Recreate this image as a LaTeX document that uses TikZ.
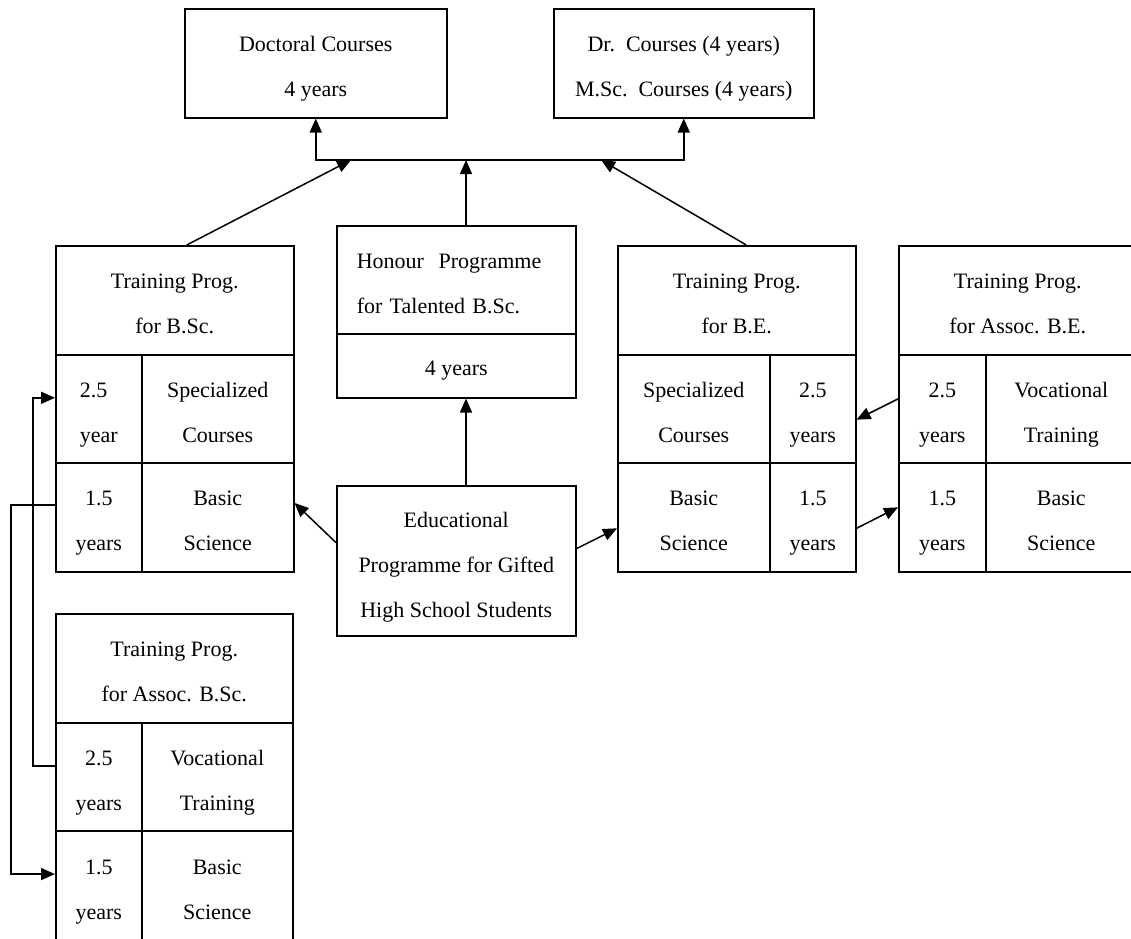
\documentclass[tikz,border=0pt]{standalone}
\usepackage{fontspec}
\setmainfont{Liberation Serif}
\usetikzlibrary{arrows.meta,calc}
\tikzset{
  cell/.style={draw, line width=1.5pt, inner sep=0pt, anchor=north west, align=center,
    font=\fontsize{22pt}{45pt}\selectfont, text height=72.5pt, text depth=6pt},
  arr/.style={line width=1.5pt, -{Triangle[length=14pt,width=12pt]}}
}
\begin{document}
\begin{tikzpicture}[x=1pt,y=-1pt]
\useasboundingbox (0,0) rectangle (1131,938);
% top boxes
\node[cell, minimum width=262pt, minimum height=109pt] (doc) at (184,8) {Doctoral Courses\\4 years};
\node[cell, minimum width=260pt, minimum height=109pt] (dr) at (553,8) {Dr.~~Courses (4 years)\\M.Sc.~~Courses (4 years)};
% left B.Sc.
\node[cell, minimum width=238pt, minimum height=109pt] (lbh) at (55,245) {Training Prog.\\for B.Sc.};
\node[cell, align=left, minimum width=86pt, minimum height=108pt] (lb1a) at (55,354) {2.5\\year};
\node[cell, minimum width=152pt, minimum height=108pt] (lb1b) at (141,354) {Specialized\\Courses};
\node[cell, minimum width=86pt, minimum height=109pt] (lb2a) at (55,462) {1.5\\years};
\node[cell, minimum width=152pt, minimum height=109pt] (lb2b) at (141,462) {Basic\\Science};
% honour
\node[cell, text width=199pt, inner xsep=20pt, align=left, minimum height=108pt,
      text height=27.5pt, text depth=51pt] (hh) at (336,225) {Honour~~Programme\\for Talented B.Sc.};
\node[cell, minimum width=239pt, minimum height=64pt, text height=25pt, text depth=6pt] (h4) at (336,333) {4 years};
% educational
\node[cell, minimum width=239pt, minimum height=150pt, text height=118.5pt] (edu) at (336,485) {Educational\\Programme for Gifted\\High School Students};
% B.E.
\node[cell, minimum width=238pt, minimum height=109pt] (beh) at (617,245) {Training Prog.\\for B.E.};
\node[cell, minimum width=152pt, minimum height=108pt] (be1a) at (617,354) {Specialized\\Courses};
\node[cell, minimum width=86pt, minimum height=108pt] (be1b) at (769,354) {2.5\\years};
\node[cell, minimum width=152pt, minimum height=109pt] (be2a) at (617,462) {Basic\\Science};
\node[cell, minimum width=86pt, minimum height=109pt] (be2b) at (769,462) {1.5\\years};
% Assoc B.E.
\node[cell, minimum width=238pt, minimum height=109pt] (abeh) at (898,245) {Training Prog.\\for Assoc. B.E.};
\node[cell, minimum width=87pt, minimum height=108pt] (abe1a) at (898,354) {2.5\\years};
\node[cell, minimum width=151pt, minimum height=108pt] (abe1b) at (985,354) {Vocational\\Training};
\node[cell, minimum width=87pt, minimum height=109pt] (abe2a) at (898,462) {1.5\\years};
\node[cell, minimum width=151pt, minimum height=109pt] (abe2b) at (985,462) {Basic\\Science};
% Assoc B.Sc.
\node[cell, minimum width=237pt, minimum height=109pt] (absh) at (55,613) {Training Prog.\\for Assoc. B.Sc.};
\node[cell, minimum width=86pt, minimum height=108pt] (abs1a) at (55,722) {2.5\\years};
\node[cell, minimum width=151pt, minimum height=108pt] (abs1b) at (141,722) {Vocational\\Training};
\node[cell, minimum width=86pt, minimum height=110pt] (abs2a) at (55,830) {1.5\\years};
\node[cell, minimum width=151pt, minimum height=110pt] (abs2b) at (141,830) {Basic\\Science};
% junction coordinates
\coordinate (J) at (466,160);
\coordinate (jL) at (351,160);
\coordinate (jR) at (601,160);
\coordinate (k1) at (33,0);
\coordinate (k2) at (11,0);
% top connectors
\draw[arr] (J) -| (doc.south);
\draw[arr] (J) -| (dr.south);
\draw[arr] (hh.north -| J) -- (J);
\draw[arr] ($(lbh.north west)!0.55!(lbh.north east)$) -- (jL);
\draw[arr] ($(beh.north west)!0.54!(beh.north east)$) -- (jR);
% educational connectors
\draw[arr] (edu.north -| J) -- (h4.south -| J);
\draw[arr] ($(edu.north west)!0.38!(edu.south west)$) -- ($(lb2b.north east)!0.37!(lb2b.south east)$);
\draw[arr] ($(edu.north east)!0.42!(edu.south east)$) -- ($(be2a.north west)!0.6!(be2a.south west)$);
% B.E. connectors
\draw[arr] ($(abe1a.north west)!0.41!(abe1a.south west)$) -- ($(be1b.north east)!0.6!(be1b.south east)$);
\draw[arr] ($(be2b.north east)!0.6!(be2b.south east)$) -- ($(abe2a.north west)!0.41!(abe2a.south west)$);
% left loops
\coordinate (a1) at ($(abs1a.north west)!0.4!(abs1a.south west)$);
\coordinate (b1) at ($(lb1a.north west)!0.4!(lb1a.south west)$);
\draw[arr] (a1) -- (a1 -| k1) -- (b1 -| k1) -- (b1);
\coordinate (c1) at ($(lb2a.north west)!0.39!(lb2a.south west)$);
\coordinate (d1) at ($(abs2a.north west)!0.395!(abs2a.south west)$);
\draw[arr] (c1) -- (c1 -| k2) -- (d1 -| k2) -- (d1);
\end{tikzpicture}
\end{document}
